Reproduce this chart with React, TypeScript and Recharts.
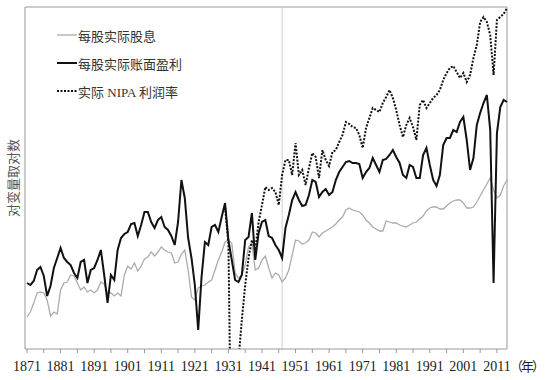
import React from 'react';
import { LineChart, Line, XAxis, YAxis, ReferenceLine, Legend } from 'recharts';

// log scale values (arbitrary log units)
const years = [
  1871, 1872, 1873, 1874, 1875, 1876, 1877, 1878, 1879, 1880,
  1881, 1882, 1883, 1884, 1885, 1886, 1887, 1888, 1889, 1890,
  1891, 1892, 1893, 1894, 1895, 1896, 1897, 1898, 1899, 1900,
  1901, 1902, 1903, 1904, 1905, 1906, 1907, 1908, 1909, 1910,
  1911, 1912, 1913, 1914, 1915, 1916, 1917, 1918, 1919, 1920,
  1921, 1922, 1923, 1924, 1925, 1926, 1927, 1928, 1929, 1930,
  1931, 1932, 1933, 1934, 1935, 1936, 1937, 1938, 1939, 1940,
  1941, 1942, 1943, 1944, 1945, 1946, 1947, 1948, 1949, 1950,
  1951, 1952, 1953, 1954, 1955, 1956, 1957, 1958, 1959, 1960,
  1961, 1962, 1963, 1964, 1965, 1966, 1967, 1968, 1969, 1970,
  1971, 1972, 1973, 1974, 1975, 1976, 1977, 1978, 1979, 1980,
  1981, 1982, 1983, 1984, 1985, 1986, 1987, 1988, 1989, 1990,
  1991, 1992, 1993, 1994, 1995, 1996, 1997, 1998, 1999, 2000,
  2001, 2002, 2003, 2004, 2005, 2006, 2007, 2008, 2009, 2010,
  2011, 2012, 2013, 2014,
];

const dividends = [
  0.32, 0.37, 0.46, 0.56, 0.57, 0.56, 0.49, 0.33, 0.37, 0.35,
  0.59, 0.66, 0.67, 0.74, 0.73, 0.66, 0.59, 0.62, 0.57, 0.59,
  0.56, 0.59, 0.67, 0.65, 0.56, 0.56, 0.53, 0.56, 0.53, 0.74,
  0.83, 0.80, 0.86, 0.78, 0.83, 0.90, 0.92, 0.97, 0.93, 0.97,
  1.02, 0.99, 0.97, 0.96, 0.86, 0.87, 0.95, 0.99, 0.79, 0.52,
  0.49, 0.61, 0.63, 0.64, 0.67, 0.69, 0.79, 0.89, 0.97, 1.07,
  1.09, 1.06, 0.76, 0.71, 0.74, 0.84, 1.02, 1.06, 0.79, 0.81,
  0.89, 0.93, 0.81, 0.71, 0.76, 0.74, 0.67, 0.71, 0.79, 0.94,
  1.09, 1.08, 1.05, 1.06, 1.09, 1.17, 1.16, 1.12, 1.16, 1.18,
  1.20, 1.22, 1.25, 1.29, 1.32, 1.39, 1.41, 1.39, 1.38, 1.37,
  1.34, 1.29, 1.26, 1.22, 1.20, 1.18, 1.18, 1.28, 1.27, 1.26,
  1.26, 1.24, 1.23, 1.22, 1.24, 1.26, 1.27, 1.30, 1.33, 1.38,
  1.41, 1.42, 1.42, 1.40, 1.40, 1.43, 1.46, 1.48, 1.49, 1.49,
  1.46, 1.41, 1.41, 1.42, 1.47, 1.53, 1.59, 1.65, 1.71, 1.59,
  1.51, 1.54, 1.63, 1.69,
];

const earnings = [
  0.66, 0.64, 0.68, 0.79, 0.82, 0.73, 0.53, 0.63, 0.81, 0.91,
  1.01, 0.91, 0.87, 0.84, 0.76, 0.71, 0.87, 0.89, 0.66, 0.79,
  0.81, 0.89, 0.99, 0.74, 0.46, 0.74, 0.69, 0.99, 1.11, 1.15,
  1.17, 1.25, 1.26, 1.13, 1.24, 1.37, 1.37, 1.27, 1.21, 1.29,
  1.32, 1.22, 1.19, 1.13, 1.04, 1.27, 1.69, 1.51, 1.11, 0.91,
  0.64, 0.19, 0.72, 1.07, 1.04, 1.22, 1.24, 1.17, 1.32, 1.46,
  1.09, 0.89, 0.69, 0.67, 0.74, 1.09, 1.12, 1.36, 0.89, 1.16,
  1.27, 1.29, 1.13, 1.11, 1.04, 0.99, 0.91, 1.21, 1.34, 1.49,
  1.57, 1.49, 1.43, 1.44, 1.54, 1.69, 1.67, 1.52, 1.57, 1.60,
  1.54, 1.57, 1.69, 1.77, 1.82, 1.87, 1.88, 1.86, 1.86, 1.85,
  1.71, 1.77, 1.81, 1.91, 1.84, 1.77, 1.89, 1.90, 1.94, 1.99,
  1.92, 1.86, 1.74, 1.71, 1.84, 1.82, 1.71, 1.71, 1.94, 2.01,
  1.84, 1.69, 1.63, 1.74, 2.04, 2.11, 2.11, 2.19, 2.17, 2.27,
  2.32, 2.09, 1.79, 1.91, 2.24, 2.36, 2.46, 2.54, 2.19, 0.66,
  2.16, 2.42, 2.49, 2.47,
];

// NIPA series starts in 1930; negative profits in 1932-33 fall off the chart
const nipaFrom = 1930;
const nipaProfits = [
  1.42,
  1.06, -1.5, -1.5, -0.11, 0.29, 0.64, 0.91, 1.09, 0.99, 1.27,
  1.44, 1.62, 1.59, 1.61, 1.57, 1.44, 1.74, 1.89, 1.89, 1.74,
  2.06, 1.74, 1.79, 1.64, 1.81, 1.96, 1.92, 1.71, 1.99, 1.89,
  1.83, 1.97, 1.99, 2.07, 2.14, 2.27, 2.25, 2.22, 2.21, 2.14,
  2.01, 2.21, 2.31, 2.41, 2.39, 2.37, 2.46, 2.52, 2.59, 2.51,
  2.39, 2.24, 2.12, 2.24, 2.31, 2.22, 2.09, 2.44, 2.49, 2.41,
  2.46, 2.51, 2.54, 2.59, 2.69, 2.76, 2.81, 2.83, 2.77, 2.71,
  2.76, 2.67, 2.74, 2.91, 3.04, 3.27, 3.32, 3.27, 3.14, 2.74,
  3.29, 3.32, 3.35, 3.41,
];

const labelYears = [1871, 1881, 1891, 1901, 1911, 1921, 1931, 1941, 1951, 1961, 1971, 1981, 1991, 2001, 2011];
const minorYears = [1876, 1886, 1896, 1906, 1916, 1926, 1936, 1946, 1956, 1966, 1976, 1986, 1996, 2006];
const breakYear = 1947;

const legendItems = [
  { name: '每股实际股息', color: '#ababab', width: 1.3, dash: undefined as string | undefined },
  { name: '每股实际账面盈利', color: '#111', width: 2, dash: undefined as string | undefined },
  { name: '实际 NIPA 利润率', color: '#111', width: 2, dash: '2 1.5' },
];

const X_MIN = 1870.4;
const X_MAX = 2014;
const Y_MAX = 3.42;
const FONT = '"Liberation Serif", "Times New Roman", "Noto Sans CJK SC", serif';
const FRAME = '#999';

const data = years.map((year, i) => ({
  year,
  dividends: dividends[i],
  earnings: earnings[i],
  nipa: year >= nipaFrom ? nipaProfits[year - nipaFrom] : null,
}));

const ticks = [...labelYears, ...minorYears].sort((a, b) => a - b);

const renderLegend = () => (
  <div style={{ fontFamily: FONT, fontSize: 13, color: '#333' }}>
    {legendItems.map((item) => (
      <div key={item.name} style={{ display: 'flex', alignItems: 'center', height: 28 }}>
        <svg width={20} height={8} style={{ marginRight: 1 }}>
          <line x1={0} y1={4} x2={20} y2={4} stroke={item.color} strokeWidth={item.width} strokeDasharray={item.dash} />
        </svg>
        <span>{item.name}</span>
      </div>
    ))}
  </div>
);

export default function App() {
  return (
    <div style={{ position: 'absolute', left: 0, top: 0, width: 547, height: 380, background: '#fff', overflow: 'hidden' }}>
      <LineChart width={547} height={380} data={data} margin={{ top: 7, right: 40, bottom: 0, left: 25 }}>
        <XAxis
          type="number"
          dataKey="year"
          domain={[X_MIN, X_MAX]}
          ticks={ticks}
          interval={0}
          height={31}
          tickSize={4}
          tickMargin={8}
          tickFormatter={(v: number) => (labelYears.includes(v) ? String(v) : '')}
          tick={{ fill: '#222', fontSize: 14, fontFamily: FONT }}
          axisLine={{ stroke: FRAME }}
          tickLine={{ stroke: FRAME }}
        />
        <YAxis hide domain={[0, Y_MAX]} allowDataOverflow />
        <ReferenceLine x={X_MIN} stroke={FRAME} />
        <ReferenceLine x={X_MAX} stroke={FRAME} />
        <ReferenceLine y={Y_MAX} stroke={FRAME} />
        <ReferenceLine x={breakYear} stroke="#d0d0d0" />
        <Line type="linear" dataKey="dividends" stroke="#ababab" strokeWidth={1.3} dot={false} isAnimationActive={false} />
        <Line type="linear" dataKey="earnings" stroke="#111" strokeWidth={2} dot={false} isAnimationActive={false} />
        <Line type="linear" dataKey="nipa" stroke="#111" strokeWidth={2} strokeDasharray="2 1.5" dot={false} isAnimationActive={false} />
        <Legend
          content={renderLegend}
          layout="vertical"
          align="center"
          verticalAlign="middle"
          wrapperStyle={{ left: 57, top: 21, width: 200 }}
        />
      </LineChart>
      <div
        style={{
          position: 'absolute',
          left: 12,
          top: 178,
          transform: 'translate(-50%, -50%) rotate(-90deg)',
          whiteSpace: 'nowrap',
          fontFamily: FONT,
          fontSize: 13,
          color: '#555',
        }}
      >
        对变量取对数
      </div>
      <div
        style={{
          position: 'absolute',
          left: 510,
          top: 356,
          fontFamily: FONT,
          fontSize: 13,
          letterSpacing: -2,
          whiteSpace: 'nowrap',
          color: '#222',
        }}
      >
        （年）
      </div>
    </div>
  );
}
